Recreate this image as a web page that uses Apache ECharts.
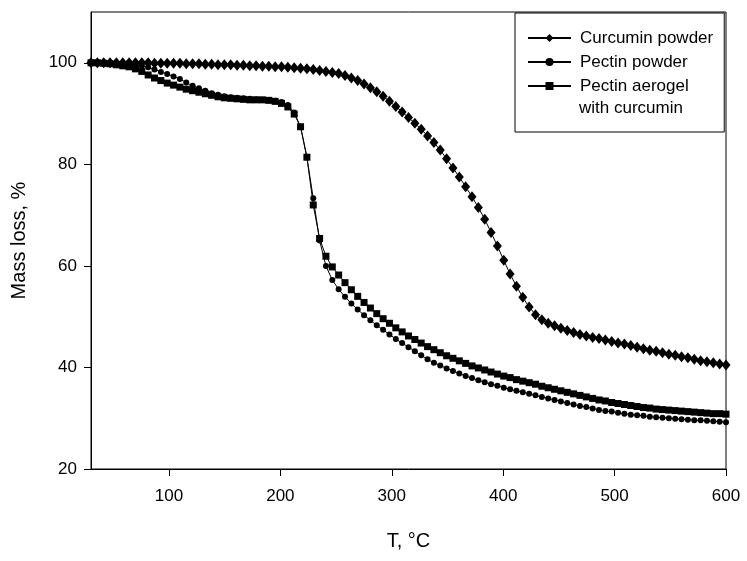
<!DOCTYPE html>
<html>
<head>
<meta charset="utf-8">
<script src="https://cdn.jsdelivr.net/npm/echarts@6/dist/echarts.min.js"></script>
<style>
html,body{margin:0;padding:0;background:#fff;}
#chart{width:747px;height:561px;}
</style>
</head>
<body>
<div id="chart"></div>
<script>
// Temperature grid (°C)
var temps = [30,35.7,41.4,47.1,52.8,58.5,64.2,69.9,75.6,81.3,87,92.7,98.4,104.1,109.8,115.5,121.2,126.9,132.6,138.3,
144,149.7,155.4,161.1,166.8,172.5,178.2,183.9,189.6,195.3,201,206.7,212.4,218.1,223.8,229.5,235.2,240.9,246.6,252.3,
258,263.7,269.4,275.1,280.8,286.5,292.2,297.9,303.6,309.3,315,320.7,326.4,332.1,337.8,343.5,349.2,354.9,360.6,366.3,
372,377.7,383.4,389.1,394.8,400.5,406.2,411.9,417.6,423.3,429,434.7,440.4,446.1,451.8,457.5,463.2,468.9,474.6,480.3,
486,491.7,497.4,503.1,508.8,514.5,520.2,525.9,531.6,537.3,543,548.7,554.4,560.1,565.8,571.5,577.2,582.9,588.6,594.3,600];

var curcuminPowder = [100.0,100.0,100.0,100.0,100.0,100.0,100.0,100.0,100.0,100.0,99.9,99.9,99.9,99.9,99.9,99.8,99.8,99.8,99.7,99.7,
99.6,99.6,99.6,99.5,99.5,99.4,99.4,99.3,99.3,99.2,99.2,99.1,99.0,98.9,98.8,98.7,98.5,98.3,98.1,97.9,
97.5,97.0,96.5,95.8,95.1,94.3,93.4,92.4,91.4,90.3,89.2,88.1,86.9,85.6,84.3,82.8,81.1,79.3,77.5,75.6,
73.6,71.5,69.2,66.6,63.9,61.1,58.4,56.0,53.8,51.9,50.4,49.4,48.7,48.2,47.7,47.3,46.9,46.5,46.2,45.9,
45.7,45.4,45.1,44.8,44.6,44.3,44.0,43.7,43.4,43.2,42.9,42.6,42.4,42.1,41.9,41.6,41.3,41.1,40.9,40.7,40.5];

var pectinPowder = [100.0,100.0,100.0,99.9,99.9,99.8,99.7,99.6,99.4,99.1,98.7,98.2,97.8,97.3,96.8,96.1,95.5,95.0,94.5,94.0,
93.7,93.4,93.2,93.1,93.0,92.9,92.8,92.7,92.6,92.5,92.3,91.7,90.2,87.4,81.4,73.3,65.0,60.0,57.2,55.4,
53.9,52.6,51.4,50.3,49.3,48.3,47.4,46.5,45.6,44.8,44.0,43.2,42.4,41.6,40.9,40.4,39.8,39.3,38.8,38.3,
37.9,37.5,37.1,36.7,36.4,36.0,35.7,35.4,35.1,34.8,34.5,34.2,33.9,33.6,33.3,33.0,32.7,32.4,32.2,31.9,
31.6,31.4,31.3,31.1,30.9,30.7,30.6,30.5,30.3,30.2,30.1,30.0,29.9,29.8,29.7,29.6,29.6,29.5,29.4,29.3,29.2];

var pectinAerogel = [100.0,100.0,99.9,99.8,99.6,99.4,99.2,98.8,98.3,97.6,97.0,96.5,96.0,95.6,95.2,94.8,94.5,94.2,93.9,93.6,
93.3,93.1,93.0,92.9,92.8,92.7,92.7,92.7,92.6,92.4,92.0,91.3,89.9,87.4,81.4,72.0,65.4,61.9,59.8,58.2,
56.7,55.3,54.0,52.8,51.7,50.6,49.6,48.7,47.8,47.0,46.2,45.5,44.8,44.1,43.5,42.9,42.3,41.8,41.3,40.8,
40.3,39.9,39.5,39.1,38.7,38.3,38.0,37.6,37.3,37.0,36.7,36.3,36.0,35.7,35.4,35.1,34.8,34.5,34.2,33.9,
33.6,33.4,33.1,32.9,32.7,32.5,32.3,32.1,32.0,31.8,31.7,31.6,31.5,31.4,31.3,31.2,31.1,31.0,30.9,30.9,30.8];

var seriesNames = ['Curcumin powder', 'Pectin powder', 'Pectin aerogel with curcumin'];
var xTicks = [100, 200, 300, 400, 500, 600];
var yTicks = [20, 40, 60, 80, 100];

function pairs(vals) {
  return temps.map(function (t, i) { return [t, vals[i]]; });
}

var FONT = '"Liberation Sans", Arial, sans-serif';
var chart = echarts.init(document.getElementById('chart'), null, {renderer: 'canvas'});

var option = {
  animation: false,
  backgroundColor: '#fff',
  grid: {left: 91, right: 21, top: 12, bottom: 92, show: true, borderColor: '#000', borderWidth: 1, backgroundColor: 'transparent'},
  xAxis: {
    type: 'value', min: 30, max: 600,
    name: 'T, °C', nameLocation: 'middle', nameGap: 62,
    nameTextStyle: {fontFamily: FONT, fontSize: 20, color: '#000'},
    axisLine: {lineStyle: {color: '#000', width: 1}},
    axisTick: {show: true, length: 7, lineStyle: {color: '#000'}, customValues: xTicks},
    axisLabel: {fontFamily: FONT, fontSize: 17, color: '#000', margin: 19, customValues: xTicks},
    splitLine: {show: false}
  },
  yAxis: {
    type: 'value', min: 20, max: 110,
    name: 'Mass loss, %', nameLocation: 'middle', nameGap: 62,
    nameTextStyle: {fontFamily: FONT, fontSize: 20, color: '#000'},
    axisLine: {lineStyle: {color: '#000', width: 1}},
    axisTick: {show: true, length: 7, lineStyle: {color: '#000'}, customValues: yTicks},
    axisLabel: {fontFamily: FONT, fontSize: 17, color: '#000', margin: 14, customValues: yTicks},
    splitLine: {show: false}
  },
  legend: {
    orient: 'vertical', left: 515, top: 13,
    padding: [15, 11, 36, 12],
    itemGap: 4, itemWidth: 43, itemHeight: 10,
    borderColor: '#000', borderWidth: 1, backgroundColor: '#fff',
    data: seriesNames,
    formatter: function (n) { return n === 'Pectin aerogel with curcumin' ? 'Pectin aerogel' : n; },
    textStyle: {fontFamily: FONT, fontSize: 17, color: '#000', lineHeight: 20, padding: [0, 0, 0, 4]}
  },
  graphic: [{
    type: 'text', left: 579, top: 100, z: 100,
    style: {text: 'with curcumin', fontFamily: FONT, fontSize: 17, fill: '#000'}
  }],
  series: [
    {name: seriesNames[0], type: 'line', data: pairs(curcuminPowder), symbol: 'diamond', symbolSize: [9, 11],
     showAllSymbol: true, color: '#000', lineStyle: {color: '#000', width: 1}, itemStyle: {color: '#000'}},
    {name: seriesNames[1], type: 'line', data: pairs(pectinPowder), symbol: 'circle', symbolSize: 6,
     showAllSymbol: true, color: '#000', lineStyle: {color: '#000', width: 1}, itemStyle: {color: '#000'}},
    {name: seriesNames[2], type: 'line', data: pairs(pectinAerogel), symbol: 'rect', symbolSize: 7,
     showAllSymbol: true, color: '#000', lineStyle: {color: '#000', width: 1}, itemStyle: {color: '#000'}}
  ]
};
chart.setOption(option);
</script>
</body>
</html>
